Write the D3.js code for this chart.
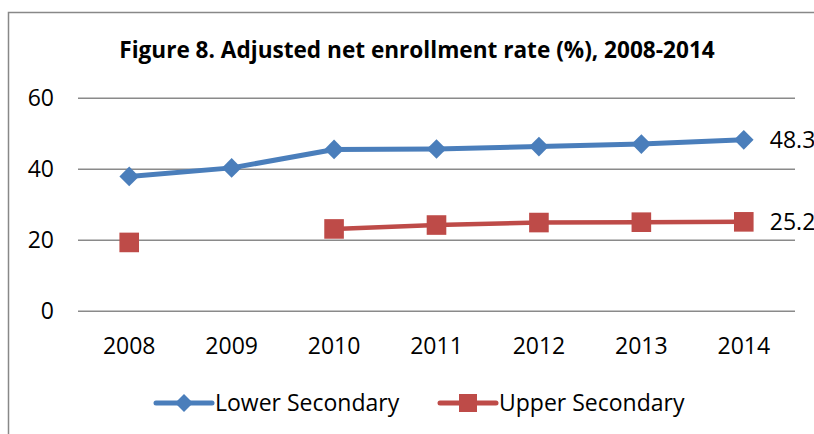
<!DOCTYPE html>
<html>
<head>
<meta charset="utf-8">
<script src="https://cdn.jsdelivr.net/npm/d3@7"></script>
<style>
  html, body { margin: 0; padding: 0; background: #fff; }
  svg { display: block; font-family: "Open Sans", "Lato", sans-serif; }
</style>
</head>
<body>
<svg id="chart" width="814" height="434"></svg>
<script>
const years = ["2008", "2009", "2010", "2011", "2012", "2013", "2014"];
const lowerSecondary = [38.0, 40.4, 45.6, 45.7, 46.4, 47.1, 48.3];
const upperSecondary = [19.4, null, 23.2, 24.3, 25.0, 25.1, 25.2];
const yTicks = [0, 20, 40, 60];
const seriesNames = ["Lower Secondary", "Upper Secondary"];
const seriesColors = ["#4A7EBB", "#BE4B48"];
const titleText = "Figure 8. Adjusted net enrollment rate (%), 2008-2014";

const svg = d3.select("#chart");

// outer chart border (cropped at right and bottom)
svg.append("rect")
  .attr("x", 8.5).attr("y", 12.5)
  .attr("width", 900).attr("height", 500)
  .attr("fill", "none").attr("stroke", "#888").attr("stroke-width", 1.5);

const x = d3.scaleBand().domain(years).range([78, 795]);
const y = d3.scaleLinear().domain([0, 60]).range([311.3, 98.3]);

// title
svg.append("text")
  .attr("x", 417).attr("y", 58)
  .attr("text-anchor", "middle")
  .attr("font-weight", "bold")
  .attr("font-size", 22.6)
  .attr("fill", "#000")
  .text(titleText);

// gridlines
svg.append("g").selectAll("line").data(yTicks).join("line")
  .attr("x1", 78).attr("x2", 795)
  .attr("y1", d => y(d)).attr("y2", d => y(d))
  .attr("stroke", "#8a8a8a").attr("stroke-width", 1.5);

// y axis labels
const yAxis = d3.axisLeft(y).tickValues(yTicks).tickSize(0).tickPadding(0);
const gy = svg.append("g").attr("transform", "translate(54,0)").call(yAxis);
gy.select(".domain").remove();
gy.selectAll("text").attr("font-size", 23).attr("font-family", "Open Sans").attr("fill", "#000");

// x axis labels
const xAxis = d3.axisBottom(x).tickSize(0).tickPadding(0);
const gx = svg.append("g").attr("transform", "translate(0,345)").call(xAxis);
gx.select(".domain").remove();
gx.selectAll("text").attr("font-size", 23).attr("font-family", "Open Sans").attr("fill", "#000").attr("dy", "0.4em");

const cx = d => x(d) + x.bandwidth() / 2;

// lines
const line = d3.line()
  .defined(d => d.v != null)
  .x(d => cx(d.year)).y(d => y(d.v));

const lowerData = years.map((yr, i) => ({ year: yr, v: lowerSecondary[i] }));
const upperData = years.map((yr, i) => ({ year: yr, v: upperSecondary[i] }));

svg.append("path").datum(lowerData)
  .attr("d", line).attr("fill", "none")
  .attr("stroke", seriesColors[0]).attr("stroke-width", 5).attr("stroke-linejoin", "round");
svg.append("path").datum(upperData)
  .attr("d", line).attr("fill", "none")
  .attr("stroke", seriesColors[1]).attr("stroke-width", 4.5).attr("stroke-linejoin", "round");

const diamond = (cxp, cyp, r) => `M${cxp},${cyp - r}L${cxp + r},${cyp}L${cxp},${cyp + r}L${cxp - r},${cyp}Z`;

svg.append("g").selectAll("path").data(lowerData.filter(d => d.v != null)).join("path")
  .attr("d", d => diamond(cx(d.year), y(d.v), 9.8))
  .attr("fill", seriesColors[0]);

svg.append("g").selectAll("rect").data(upperData.filter(d => d.v != null)).join("rect")
  .attr("x", d => cx(d.year) - 9.8).attr("y", d => y(d.v) - 9.8)
  .attr("width", 19.6).attr("height", 19.6)
  .attr("fill", seriesColors[1]);

// data labels on last point
const last = years.length - 1;
[[lowerSecondary[last], 0], [upperSecondary[last], 1]].forEach(([v]) => {
  svg.append("text")
    .attr("x", cx(years[last]) + 26).attr("y", y(v))
    .attr("dy", "0.36em")
    .attr("font-size", 23).attr("fill", "#000")
    .text(v.toFixed(1));
});

// legend
const legend = [
  { name: seriesNames[0], color: seriesColors[0], shape: "diamond", x0: 156 },
  { name: seriesNames[1], color: seriesColors[1], shape: "square", x0: 440 }
];
const ly = 403;
legend.forEach(l => {
  const g = svg.append("g");
  g.append("line").attr("x1", l.x0).attr("x2", l.x0 + 56)
    .attr("y1", ly).attr("y2", ly)
    .attr("stroke", l.color).attr("stroke-width", 5).attr("stroke-linecap", "round");
  const mx = l.x0 + 28;
  if (l.shape === "diamond") {
    g.append("path").attr("d", diamond(mx, ly, 9)).attr("fill", l.color);
  } else {
    g.append("rect").attr("x", mx - 9).attr("y", ly - 9).attr("width", 18).attr("height", 18).attr("fill", l.color);
  }
  g.append("text").attr("x", l.x0 + 59).attr("y", ly).attr("dy", "0.36em")
    .attr("font-size", 23).attr("fill", "#000").text(l.name);
});
</script>
</body>
</html>
